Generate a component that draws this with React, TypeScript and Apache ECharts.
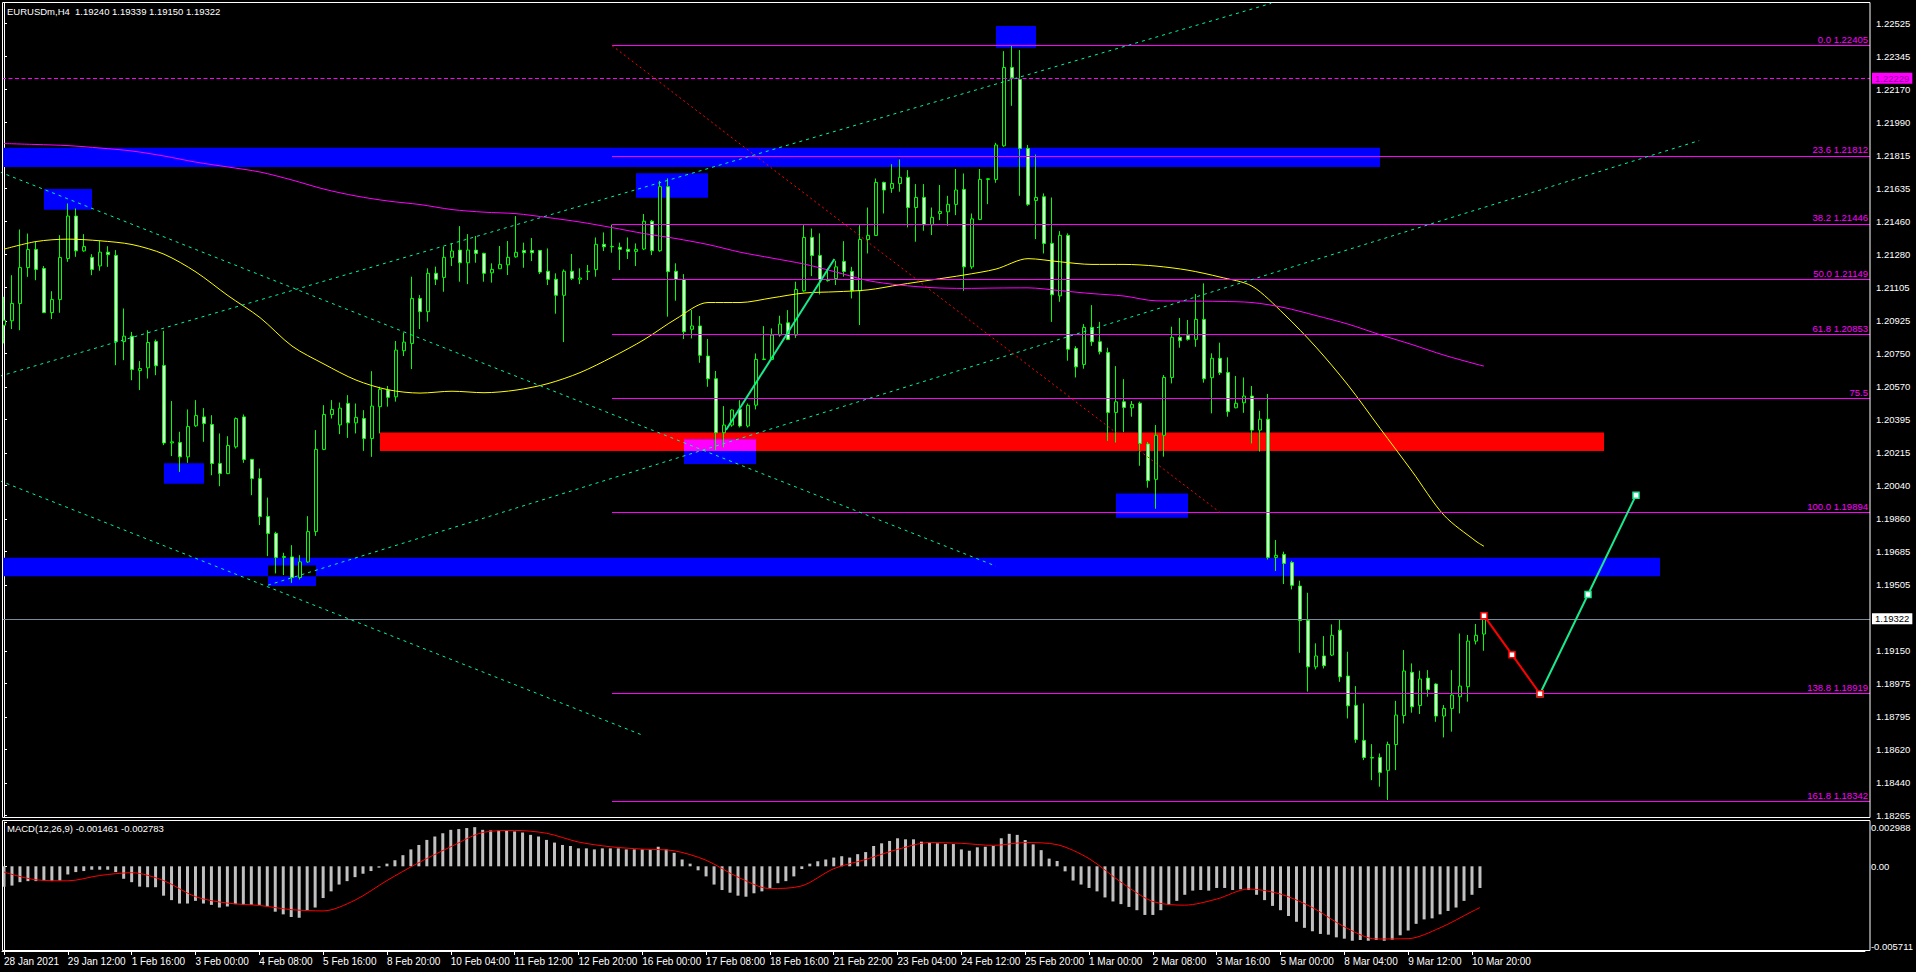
import React, { useEffect, useRef } from 'react';
import * as echarts from 'echarts';

const W = 1916;
const H = 972;
const FONT = 'Liberation Sans';

// EURUSDm H4 bars, oldest first: [open, high, low, close]
const candles: number[][] = [
  [1.20901, 1.21054, 1.20803, 1.20928], [1.20925, 1.21170, 1.20880, 1.21018], [1.21018, 1.21416, 1.20874, 1.21211],
  [1.21211, 1.21394, 1.21161, 1.21308], [1.21308, 1.21350, 1.21143, 1.21201], [1.21206, 1.21219, 1.20966, 1.20969],
  [1.20969, 1.21084, 1.20934, 1.21039], [1.21039, 1.21385, 1.20968, 1.21265], [1.21260, 1.21556, 1.21242, 1.21488],
  [1.21488, 1.21529, 1.21269, 1.21301], [1.21301, 1.21391, 1.21296, 1.21324], [1.21265, 1.21283, 1.21170, 1.21201],
  [1.21220, 1.21355, 1.21194, 1.21294], [1.21294, 1.21326, 1.21215, 1.21281], [1.21276, 1.21305, 1.20686, 1.20813],
  [1.20813, 1.20991, 1.20713, 1.20842], [1.20842, 1.20865, 1.20605, 1.20663], [1.20657, 1.20708, 1.20552, 1.20668],
  [1.20672, 1.20874, 1.20614, 1.20808], [1.20813, 1.20824, 1.20632, 1.20683], [1.20684, 1.20871, 1.20256, 1.20268],
  [1.20268, 1.20493, 1.20197, 1.20274], [1.20270, 1.20328, 1.20112, 1.20193], [1.20193, 1.20448, 1.20161, 1.20356],
  [1.20360, 1.20498, 1.20354, 1.20415], [1.20408, 1.20455, 1.20274, 1.20372], [1.20367, 1.20417, 1.20094, 1.20157],
  [1.20157, 1.20319, 1.20035, 1.20103], [1.20103, 1.20304, 1.20100, 1.20254], [1.20247, 1.20405, 1.20238, 1.20399],
  [1.20408, 1.20421, 1.20161, 1.20179], [1.20179, 1.20182, 1.19987, 1.20077], [1.20077, 1.20130, 1.19826, 1.19872],
  [1.19872, 1.19974, 1.19659, 1.19781], [1.19781, 1.19790, 1.19566, 1.19652], [1.19652, 1.19677, 1.19557, 1.19657],
  [1.19655, 1.19718, 1.19515, 1.19544], [1.19544, 1.19664, 1.19533, 1.19628], [1.19628, 1.19874, 1.19623, 1.19791],
  [1.19791, 1.20337, 1.19768, 1.20233], [1.20233, 1.20471, 1.20229, 1.20421], [1.20421, 1.20498, 1.20399, 1.20448],
  [1.20365, 1.20485, 1.20315, 1.20455], [1.20480, 1.20525, 1.20295, 1.20376], [1.20376, 1.20480, 1.20319, 1.20405],
  [1.20399, 1.20444, 1.20225, 1.20292], [1.20292, 1.20654, 1.20193, 1.20466], [1.20463, 1.20570, 1.20319, 1.20556],
  [1.20552, 1.20574, 1.20463, 1.20513], [1.20516, 1.20816, 1.20490, 1.20767], [1.20764, 1.20862, 1.20735, 1.20810],
  [1.20803, 1.21162, 1.20665, 1.21045], [1.21045, 1.21063, 1.20880, 1.20974], [1.20974, 1.21207, 1.20920, 1.21180],
  [1.21180, 1.21216, 1.21117, 1.21148], [1.21158, 1.21323, 1.21081, 1.21266], [1.21266, 1.21341, 1.21219, 1.21300],
  [1.21305, 1.21434, 1.21135, 1.21237], [1.21237, 1.21391, 1.21122, 1.21305], [1.21305, 1.21381, 1.21237, 1.21287],
  [1.21287, 1.21291, 1.21135, 1.21180], [1.21183, 1.21234, 1.21130, 1.21201], [1.21205, 1.21327, 1.21205, 1.21228],
  [1.21226, 1.21354, 1.21171, 1.21266], [1.21269, 1.21488, 1.21264, 1.21293], [1.21303, 1.21345, 1.21210, 1.21291],
  [1.21303, 1.21370, 1.21246, 1.21291], [1.21303, 1.21305, 1.21176, 1.21187], [1.21191, 1.21314, 1.21117, 1.21148],
  [1.21148, 1.21180, 1.20963, 1.21062], [1.21062, 1.21201, 1.20810, 1.21191], [1.21191, 1.21284, 1.21144, 1.21153],
  [1.21148, 1.21207, 1.21122, 1.21155], [1.21189, 1.21225, 1.21144, 1.21191], [1.21200, 1.21373, 1.21162, 1.21336],
  [1.21336, 1.21400, 1.21300, 1.21323], [1.21323, 1.21442, 1.21291, 1.21325], [1.21320, 1.21345, 1.21198, 1.21309],
  [1.21309, 1.21373, 1.21257, 1.21298], [1.21298, 1.21341, 1.21219, 1.21309], [1.21311, 1.21499, 1.21305, 1.21460],
  [1.21460, 1.21467, 1.21278, 1.21302], [1.21302, 1.21677, 1.21296, 1.21646], [1.21646, 1.21691, 1.20947, 1.21189],
  [1.21191, 1.21234, 1.21033, 1.21148], [1.21148, 1.21176, 1.20827, 1.20866], [1.20879, 1.20983, 1.20830, 1.20897],
  [1.20897, 1.20950, 1.20699, 1.20739], [1.20735, 1.20827, 1.20570, 1.20613], [1.20613, 1.20655, 1.20230, 1.20323],
  [1.20323, 1.20466, 1.20244, 1.20364], [1.20364, 1.20448, 1.20355, 1.20445], [1.20448, 1.20498, 1.20351, 1.20359],
  [1.20359, 1.20480, 1.20351, 1.20470], [1.20471, 1.20749, 1.20448, 1.20717], [1.20717, 1.20896, 1.20713, 1.20719],
  [1.20717, 1.20884, 1.20713, 1.20848], [1.20848, 1.20952, 1.20839, 1.20907], [1.20914, 1.20982, 1.20821, 1.20824],
  [1.20848, 1.21135, 1.20833, 1.21093], [1.21086, 1.21439, 1.21081, 1.21373], [1.21373, 1.21421, 1.21165, 1.21276],
  [1.21276, 1.21395, 1.21066, 1.21147], [1.21147, 1.21206, 1.21135, 1.21142], [1.21152, 1.21248, 1.21117, 1.21215],
  [1.21244, 1.21353, 1.21162, 1.21190], [1.21190, 1.21215, 1.21045, 1.21086], [1.21086, 1.21439, 1.20902, 1.21362],
  [1.21362, 1.21534, 1.21287, 1.21384], [1.21384, 1.21690, 1.21381, 1.21669], [1.21669, 1.21673, 1.21502, 1.21628],
  [1.21637, 1.21767, 1.21613, 1.21663], [1.21663, 1.21793, 1.21619, 1.21696], [1.21696, 1.21735, 1.21427, 1.21534],
  [1.21534, 1.21660, 1.21350, 1.21588], [1.21588, 1.21660, 1.21409, 1.21441], [1.21441, 1.21534, 1.21386, 1.21481],
  [1.21502, 1.21655, 1.21466, 1.21513], [1.21511, 1.21597, 1.21436, 1.21551], [1.21551, 1.21741, 1.21493, 1.21628],
  [1.21631, 1.21717, 1.21086, 1.21215], [1.21215, 1.21502, 1.21204, 1.21473], [1.21470, 1.21741, 1.21466, 1.21685],
  [1.21685, 1.21692, 1.21552, 1.21689], [1.21685, 1.21882, 1.21667, 1.21870], [1.21866, 1.22375, 1.21861, 1.22287],
  [1.22287, 1.22405, 1.22081, 1.22232], [1.22223, 1.22381, 1.21597, 1.21852], [1.21852, 1.21870, 1.21543, 1.21551],
  [1.21572, 1.21819, 1.21364, 1.21588], [1.21592, 1.21610, 1.21287, 1.21341], [1.21341, 1.21588, 1.20919, 1.21065],
  [1.21059, 1.21407, 1.21027, 1.21384], [1.21384, 1.21395, 1.20710, 1.20772], [1.20776, 1.20788, 1.20620, 1.20677],
  [1.20690, 1.20907, 1.20667, 1.20889], [1.20889, 1.21009, 1.20790, 1.20812], [1.20812, 1.20919, 1.20744, 1.20758],
  [1.20754, 1.20780, 1.20279, 1.20432], [1.20432, 1.20681, 1.20270, 1.20489], [1.20489, 1.20611, 1.20326, 1.20459],
  [1.20457, 1.20493, 1.20409, 1.20475], [1.20481, 1.20490, 1.20145, 1.20265], [1.20262, 1.20273, 1.20027, 1.20065],
  [1.20072, 1.20364, 1.19914, 1.20309], [1.20309, 1.20633, 1.20194, 1.20620], [1.20620, 1.20893, 1.20588, 1.20836],
  [1.20836, 1.20940, 1.20780, 1.20818], [1.20846, 1.20929, 1.20818, 1.20825], [1.20825, 1.21069, 1.20785, 1.20932],
  [1.20932, 1.21126, 1.20592, 1.20613], [1.20619, 1.20750, 1.20427, 1.20723], [1.20723, 1.20807, 1.20633, 1.20646],
  [1.20647, 1.20728, 1.20409, 1.20436], [1.20457, 1.20628, 1.20454, 1.20481], [1.20484, 1.20620, 1.20430, 1.20520],
  [1.20520, 1.20574, 1.20265, 1.20337], [1.20337, 1.20441, 1.20221, 1.20395], [1.20395, 1.20531, 1.19641, 1.19652],
  [1.19652, 1.19746, 1.19579, 1.19663], [1.19668, 1.19683, 1.19509, 1.19620], [1.19625, 1.19634, 1.19480, 1.19502],
  [1.19498, 1.19527, 1.19139, 1.19313], [1.19313, 1.19462, 1.18930, 1.19064], [1.19064, 1.19190, 1.19050, 1.19122],
  [1.19122, 1.19229, 1.19055, 1.19070], [1.19127, 1.19292, 1.19122, 1.19233], [1.19261, 1.19321, 1.18983, 1.19010],
  [1.19014, 1.19145, 1.18786, 1.18854], [1.18856, 1.18960, 1.18655, 1.18673], [1.18668, 1.18867, 1.18562, 1.18576],
  [1.18573, 1.18648, 1.18454, 1.18576], [1.18576, 1.18598, 1.18419, 1.18496], [1.18507, 1.18661, 1.18347, 1.18646],
  [1.18646, 1.18881, 1.18508, 1.18804], [1.18802, 1.19154, 1.18759, 1.19041], [1.19034, 1.19082, 1.18817, 1.18849],
  [1.18856, 1.19043, 1.18810, 1.18998], [1.19003, 1.19046, 1.18903, 1.18942], [1.18971, 1.18975, 1.18768, 1.18799],
  [1.18799, 1.18858, 1.18684, 1.18840], [1.18840, 1.19046, 1.18715, 1.18912], [1.18903, 1.19243, 1.18813, 1.18960],
  [1.18957, 1.19235, 1.18876, 1.19202], [1.19202, 1.19294, 1.19184, 1.19233], [1.19240, 1.19339, 1.19150, 1.19322],
];

// MACD(12,26,9) main line, one value per bar (drawn as histogram)
const macdMain: number[] = [
  -0.00137, -0.00130, -0.00107, -0.00100, -0.00100, -0.00096, -0.00100, -0.00096, -0.00055, -0.00039,
  -0.00032, -0.00023, -0.00023, -0.00023, -0.00039, -0.00084, -0.00107, -0.00137, -0.00141, -0.00141,
  -0.00198, -0.00228, -0.00251, -0.00251, -0.00233, -0.00251, -0.00260, -0.00278, -0.00271, -0.00255,
  -0.00260, -0.00260, -0.00260, -0.00271, -0.00306, -0.00324, -0.00342, -0.00347, -0.00296, -0.00278,
  -0.00214, -0.00169, -0.00123, -0.00100, -0.00073, -0.00050, -0.00032, -0.00009, 0.00018, 0.00041,
  0.00075, 0.00114, 0.00144, 0.00178, 0.00201, 0.00223, 0.00246, 0.00251, 0.00258, 0.00264,
  0.00246, 0.00242, 0.00242, 0.00242, 0.00235, 0.00228, 0.00212, 0.00201, 0.00178, 0.00160,
  0.00144, 0.00137, 0.00121, 0.00121, 0.00114, 0.00121, 0.00121, 0.00121, 0.00114, 0.00114,
  0.00114, 0.00114, 0.00132, 0.00114, 0.00091, 0.00046, 0.00018, -0.00027, -0.00068, -0.00123,
  -0.00160, -0.00178, -0.00198, -0.00205, -0.00182, -0.00169, -0.00146, -0.00114, -0.00100, -0.00068,
  -0.00018, 0.00018, 0.00034, 0.00046, 0.00059, 0.00068, 0.00059, 0.00082, 0.00096, 0.00137,
  0.00155, 0.00171, 0.00189, 0.00182, 0.00182, 0.00166, 0.00160, 0.00155, 0.00150, 0.00150,
  0.00114, 0.00105, 0.00128, 0.00132, 0.00137, 0.00189, 0.00219, 0.00212, 0.00178, 0.00148,
  0.00109, 0.00052, 0.00036, -0.00034, -0.00096, -0.00123, -0.00146, -0.00169, -0.00210, -0.00237,
  -0.00255, -0.00274, -0.00296, -0.00328, -0.00328, -0.00296, -0.00260, -0.00233, -0.00192, -0.00164,
  -0.00160, -0.00164, -0.00146, -0.00146, -0.00160, -0.00155, -0.00160, -0.00192, -0.00228, -0.00267,
  -0.00296, -0.00335, -0.00374, -0.00415, -0.00438, -0.00456, -0.00461, -0.00479, -0.00488, -0.00502,
  -0.00497, -0.00502, -0.00497, -0.00502, -0.00495, -0.00465, -0.00433, -0.00388, -0.00358, -0.00351,
  -0.00324, -0.00301, -0.00278, -0.00233, -0.00192, -0.001461,
];

// Smooth lines are listed every SAMPLE_STEP bars, the last value belongs to the last bar
const SAMPLE_STEP = 4;
const maYellow: number[] = [
  1.21310, 1.21351, 1.21364, 1.21355, 1.21335, 1.21283, 1.21187, 1.21060, 1.20942, 1.20789,
  1.20692, 1.20606, 1.20554, 1.20536, 1.20546, 1.20538, 1.20552, 1.20587, 1.20646, 1.20729,
  1.20823, 1.20935, 1.21023, 1.21023, 1.21048, 1.21074, 1.21081, 1.21091, 1.21119, 1.21145,
  1.21171, 1.21203, 1.21259, 1.21242, 1.21228, 1.21228, 1.21219, 1.21197, 1.21160, 1.21111,
  1.20961, 1.20783, 1.20579, 1.20347, 1.20116, 1.19879, 1.19739, 1.19712,
];
const maMagenta: number[] = [
  1.21878, 1.21873, 1.21867, 1.21854, 1.21838, 1.21811, 1.21778, 1.21752, 1.21725, 1.21682,
  1.21633, 1.21596, 1.21569, 1.21550, 1.21523, 1.21509, 1.21501, 1.21480, 1.21456, 1.21426,
  1.21394, 1.21367, 1.21335, 1.21294, 1.21262, 1.21230, 1.21187, 1.21141, 1.21117, 1.21103,
  1.21099, 1.21101, 1.21102, 1.21087, 1.21071, 1.21058, 1.21032, 1.21031, 1.21029, 1.21023,
  1.20996, 1.20953, 1.20907, 1.20850, 1.20797, 1.20740, 1.20692, 1.20681,
];
const macdSignal: number[] = [
  -0.00039, -0.00091, -0.00098, -0.00062, -0.00043, -0.00096, -0.00205, -0.00248, -0.00264, -0.00292,
  -0.00301, -0.00228, -0.00096, 0.00025, 0.00132, 0.00228, 0.00242, 0.00223, 0.00164, 0.00132,
  0.00116, 0.00105, 0.00041, -0.00073, -0.00150, -0.00132, -0.00016, 0.00046, 0.00114, 0.00160,
  0.00155, 0.00141, 0.00160, 0.00146, 0.00052, -0.00107, -0.00237, -0.00262, -0.00221, -0.00153,
  -0.00187, -0.00278, -0.00408, -0.00490, -0.00488, -0.00415, -0.00305, -0.002783,
];

// Time scale labels, one every LABEL_EVERY bars starting at the first bar
const LABEL_EVERY = 8;
const timeLabels: string[] = [
  '28 Jan 2021', '29 Jan 12:00', '1 Feb 16:00', '3 Feb 00:00', '4 Feb 08:00', '5 Feb 16:00',
  '8 Feb 20:00', '10 Feb 04:00', '11 Feb 12:00', '12 Feb 20:00', '16 Feb 00:00', '17 Feb 08:00',
  '18 Feb 16:00', '21 Feb 22:00', '23 Feb 04:00', '24 Feb 12:00', '25 Feb 20:00', '1 Mar 00:00',
  '2 Mar 08:00', '3 Mar 16:00', '5 Mar 00:00', '8 Mar 04:00', '9 Mar 12:00', '10 Mar 20:00',
];

const priceTicks: number[] = [
  1.22525, 1.22345, 1.22170, 1.21990, 1.21815, 1.21635, 1.21460, 1.21280, 1.21105, 1.20925,
  1.20750, 1.20570, 1.20395, 1.20215, 1.20040, 1.19860, 1.19685, 1.19505, 1.19150, 1.18975,
  1.18795, 1.18620, 1.18440, 1.18265,
];
const macdTicks: number[] = [-0.005711, 0, 0.002988];

// Fibonacci retracement drawn from the 1.22405 top to the 1.19894 low
const fibLevels: string[] = ['0.0', '23.6', '38.2', '50.0', '61.8', '75.5', '100.0', '138.8', '161.8'];
const fibPrices: number[] = [1.22405, 1.21812, 1.21446, 1.21149, 1.20853, 1.20509, 1.19894, 1.18919, 1.18342];
const fibPriceShown: boolean[] = [true, true, true, true, true, false, true, true, true];
const fibTrend: number[][] = [[76, 1.22405], [152, 1.19894]];

// Supply / demand zones: [fromBar, toBar, priceA, priceB, colour]
const X_MIN = -0.25;
const X_MAX = 233.25;
const zones: [number, number, number, number, string][] = [
  [X_MIN, 172, 1.21855, 1.21752, '#0000FF'],
  [X_MIN, 207, 1.19650, 1.19551, '#0000FF'],
  [47, 200, 1.20324, 1.20224, '#FF0000'],
  [5, 11, 1.21633, 1.21522, '#0000FF'],
  [20, 25, 1.20159, 1.20048, '#0000FF'],
  [33, 39, 1.19609, 1.19499, '#0000FF'],
  [79, 88, 1.21719, 1.21586, '#0000FF'],
  [85, 94, 1.20288, 1.20154, '#0000FF'],
  [124, 129, 1.22510, 1.22393, '#0000FF'],
  [139, 148, 1.19996, 1.19865, '#0000FF'],
];

// Channel lines (dotted), as [bar, price] end points
const channelLines: number[][][] = [
  [[-0.5, 1.20627], [158.4, 1.22632]],
  [[33, 1.19503], [211.9, 1.21894]],
  [[-0.5, 1.21725], [124, 1.19605]],
  [[-0.5, 1.20064], [79.7, 1.18698]],
];
const swingLine: number[][] = [[90.25, 1.20337], [103.8, 1.21257]];
const projectionDown: number[][] = [[185, 1.19339], [188.5, 1.19129], [192, 1.18919]];
const projectionUp: number[][] = [[192, 1.18919], [198, 1.19453], [204, 1.19987]];

const BID = 1.19322;
const ALERT_LEVEL = 1.22229;
const P_MIN = 1.18256;
const P_MAX = 1.22634;
const M_MIN = -0.005711;
const M_MAX = 0.002988;

const sampled = (vals: number[]) =>
  vals.map((v, k) => [k === vals.length - 1 ? candles.length - 1 : k * SAMPLE_STEP, v]);

const xorColor = (a: string, b: string) =>
  '#' + (parseInt(a.slice(1), 16) ^ parseInt(b.slice(1), 16)).toString(16).padStart(6, '0');

function zonePieces() {
  const out: any[] = zones.map((z) => ({ value: [z[0], z[1], z[2], z[3]], itemStyle: { color: z[4] } }));
  for (let i = 0; i < zones.length; i++) {
    for (let j = i + 1; j < zones.length; j++) {
      const a = zones[i];
      const b = zones[j];
      const x0 = Math.max(Math.min(a[0], a[1]), Math.min(b[0], b[1]));
      const x1 = Math.min(Math.max(a[0], a[1]), Math.max(b[0], b[1]));
      const p0 = Math.max(Math.min(a[2], a[3]), Math.min(b[2], b[3]));
      const p1 = Math.min(Math.max(a[2], a[3]), Math.max(b[2], b[3]));
      if (x0 < x1 && p0 < p1) {
        out.push({ value: [x0, x1, p0, p1], itemStyle: { color: xorColor(a[4], b[4]) } });
      }
    }
  }
  return out;
}

function buildOption(): any {
  const labelBars = timeLabels.map((_, k) => k * LABEL_EVERY);
  const axisText = { color: '#FFFFFF', fontFamily: FONT };
  const dotted = (color: string, dash: number[]) => ({ color, width: 1, type: dash });

  return {
    animation: false,
    backgroundColor: '#000000',
    grid: [
      { left: 2, top: 3, width: 1868, height: 814 },
      { left: 2, top: 822, width: 1868, height: 129 },
    ],
    xAxis: [
      { type: 'value', gridIndex: 0, min: X_MIN, max: X_MAX, show: false },
      {
        type: 'value', gridIndex: 1, min: X_MIN, max: X_MAX,
        splitLine: { show: false },
        axisLine: { show: true, onZero: false, lineStyle: { color: '#FFFFFF', width: 1 } },
        axisTick: { show: true, customValues: labelBars, length: 4, lineStyle: { color: '#FFFFFF' } },
        axisLabel: {
          ...axisText, fontSize: 10, align: 'left', margin: 5, customValues: labelBars,
          formatter: (v: number) => timeLabels[Math.round(v / LABEL_EVERY)] ?? '',
        },
      },
    ],
    yAxis: [
      {
        type: 'value', gridIndex: 0, position: 'right', min: P_MIN, max: P_MAX,
        splitLine: { show: false },
        axisLine: { show: true, lineStyle: { color: '#FFFFFF', width: 1 } },
        axisTick: { show: true, customValues: priceTicks, length: 3, lineStyle: { color: '#FFFFFF' } },
        axisLabel: {
          ...axisText, fontSize: 9.5, margin: 6, customValues: priceTicks,
          formatter: (v: number) => v.toFixed(5),
        },
      },
      {
        type: 'value', gridIndex: 1, position: 'right', min: M_MIN, max: M_MAX,
        splitLine: { show: false },
        axisLine: { show: true, lineStyle: { color: '#FFFFFF', width: 1 } },
        axisTick: { show: true, customValues: macdTicks, length: 3, lineStyle: { color: '#FFFFFF' } },
        axisLabel: {
          ...axisText, fontSize: 9.5, margin: 6, customValues: macdTicks,
          showMinLabel: true, showMaxLabel: true,
          verticalAlignMinLabel: 'bottom', verticalAlignMaxLabel: 'top',
          formatter: (v: number) => (v === 0 ? '0.00' : v.toFixed(6)),
        },
      },
    ],
    graphic: [
      {
        type: 'rect', silent: true, z: 100,
        shape: { x: 2.5, y: 2.5, width: 1867.5, height: 815 },
        style: { fill: 'none', stroke: '#FFFFFF', lineWidth: 1 },
      },
      {
        type: 'rect', silent: true, z: 100,
        shape: { x: 2.5, y: 820.5, width: 1867.5, height: 130 },
        style: { fill: 'none', stroke: '#FFFFFF', lineWidth: 1 },
      },
      {
        type: 'text', x: 7, y: 11, silent: true, z: 100,
        style: {
          text: 'EURUSDm,H4  1.19240 1.19339 1.19150 1.19322',
          fill: '#FFFFFF', fontSize: 9.5, fontFamily: FONT, verticalAlign: 'middle',
        },
      },
      {
        type: 'text', x: 7, y: 828, silent: true, z: 100,
        style: {
          text: 'MACD(12,26,9) -0.001461 -0.002783',
          fill: '#FFFFFF', fontSize: 9.5, fontFamily: FONT, verticalAlign: 'middle',
        },
      },
    ],
    series: [
      {
        name: 'zones', type: 'custom', xAxisIndex: 0, yAxisIndex: 0, z: 1, silent: true,
        encode: { x: [0, 1], y: [2, 3] },
        renderItem: (_params: any, api: any) => {
          const a = api.coord([api.value(0), api.value(2)]);
          const b = api.coord([api.value(1), api.value(3)]);
          return {
            type: 'rect',
            shape: {
              x: Math.min(a[0], b[0]), y: Math.min(a[1], b[1]),
              width: Math.abs(b[0] - a[0]), height: Math.abs(b[1] - a[1]),
            },
            style: { fill: api.visual('color') },
          };
        },
        data: zonePieces(),
      },
      {
        name: 'EURUSDm', type: 'candlestick', xAxisIndex: 0, yAxisIndex: 0, z: 3,
        barWidth: 4,
        encode: { x: 0, y: [1, 2, 3, 4] },
        data: candles.map((c, i) => [i, c[0], c[3], c[2], c[1]]),
        itemStyle: {
          color: '#000000', color0: '#FFFFFF',
          borderColor: '#00FF00', borderColor0: '#00FF00', borderColorDoji: '#00FF00',
          borderWidth: 1,
        },
      },
      {
        name: 'MA yellow', type: 'line', xAxisIndex: 0, yAxisIndex: 0, z: 4,
        data: sampled(maYellow), smooth: 0.3, showSymbol: false, silent: true,
        lineStyle: { color: '#FFFF00', width: 1 },
      },
      {
        name: 'MA magenta', type: 'line', xAxisIndex: 0, yAxisIndex: 0, z: 4,
        data: sampled(maMagenta), smooth: 0.3, showSymbol: false, silent: true,
        lineStyle: { color: '#FF00FF', width: 1 },
      },
      ...channelLines.map((pts, k) => ({
        name: 'channel ' + k, type: 'line', xAxisIndex: 0, yAxisIndex: 0, z: 5,
        data: pts, showSymbol: false, silent: true, clip: true,
        lineStyle: dotted('#00F5A0', [3, 4]),
      })),
      {
        name: 'swing', type: 'line', xAxisIndex: 0, yAxisIndex: 0, z: 5,
        data: swingLine, showSymbol: false, silent: true,
        lineStyle: { color: '#19E88C', width: 2 },
      },
      {
        name: 'fibo', type: 'line', xAxisIndex: 0, yAxisIndex: 0, z: 5,
        data: fibTrend, showSymbol: false, silent: true,
        lineStyle: dotted('#FF0000', [2, 3]),
        markLine: {
          silent: true, symbol: ['none', 'none'], animation: false, precision: 5,
          lineStyle: { color: '#FF00FF', width: 1, type: 'solid' },
          label: {
            show: true, position: 'insideEndTop', formatter: '{b}', distance: [2, 1],
            color: '#FF00FF', fontSize: 9.5, fontFamily: FONT,
          },
          emphasis: { disabled: true },
          data: fibPrices.map((p, k) => [
            { name: fibPriceShown[k] ? fibLevels[k] + ' ' + p.toFixed(5) : fibLevels[k], coord: [fibTrend[0][0], p] },
            { coord: [X_MAX, p] },
          ]),
        },
      },
      {
        name: 'price lines', type: 'line', xAxisIndex: 0, yAxisIndex: 0, z: 6,
        data: [], silent: true,
        markLine: {
          silent: true, symbol: ['none', 'none'], animation: false, precision: 5,
          emphasis: { disabled: true },
          data: [
            {
              name: ALERT_LEVEL.toFixed(5), yAxis: ALERT_LEVEL,
              lineStyle: { color: '#FF00FF', width: 1, type: [4, 2.5] },
              label: {
                show: true, position: 'end', formatter: '{b}', distance: 2,
                color: '#9A009A', backgroundColor: '#FF00FF', padding: [1, 3, 0, 3],
                fontSize: 9.5, fontFamily: FONT, lineHeight: 10,
              },
            },
            {
              name: BID.toFixed(5), yAxis: BID,
              lineStyle: { color: '#7A8B99', width: 1, type: 'solid' },
              label: {
                show: true, position: 'end', formatter: '{b}', distance: 2,
                color: '#000000', backgroundColor: '#FFFFFF', padding: [1, 3, 0, 3],
                fontSize: 9.5, fontFamily: FONT, lineHeight: 10,
              },
            },
          ],
        },
      },
      {
        name: 'projection up', type: 'line', xAxisIndex: 0, yAxisIndex: 0, z: 7,
        data: projectionUp, silent: true, symbol: 'rect', symbolSize: 6, showSymbol: true,
        lineStyle: { color: '#19E88C', width: 2 },
        itemStyle: { color: '#FFFFFF', borderColor: '#19E88C', borderWidth: 1.5 },
      },
      {
        name: 'projection down', type: 'line', xAxisIndex: 0, yAxisIndex: 0, z: 7,
        data: projectionDown, silent: true, symbol: 'rect', symbolSize: 6, showSymbol: true,
        lineStyle: { color: '#FF0000', width: 2 },
        itemStyle: { color: '#FFFFFF', borderColor: '#FF0000', borderWidth: 1.5 },
      },
      {
        name: 'MACD', type: 'bar', xAxisIndex: 1, yAxisIndex: 1, z: 2, silent: true,
        barWidth: 3,
        data: macdMain.map((v, i) => [i, v]),
        itemStyle: { color: '#C0C0C0' },
      },
      {
        name: 'Signal', type: 'line', xAxisIndex: 1, yAxisIndex: 1, z: 3, silent: true,
        data: sampled(macdSignal), smooth: 0.3, showSymbol: false,
        lineStyle: { color: '#FF0000', width: 1 },
      },
    ],
  };
}

export default function App() {
  const ref = useRef<HTMLDivElement>(null);
  useEffect(() => {
    if (!ref.current) return;
    const chart = echarts.init(ref.current, null, { renderer: 'svg', width: W, height: H });
    chart.setOption(buildOption());
    return () => chart.dispose();
  }, []);
  return (
    <div
      ref={ref}
      style={{ position: 'fixed', left: 0, top: 0, width: W, height: H, background: '#000000' }}
    />
  );
}
